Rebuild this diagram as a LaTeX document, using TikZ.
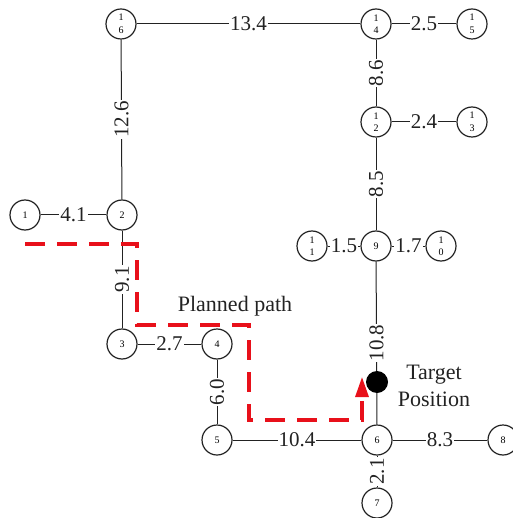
\documentclass[tikz,border=0pt]{standalone}
\usepackage{fontspec}
\setmainfont{Liberation Serif}
\usetikzlibrary{arrows.meta}
\definecolor{pathred}{HTML}{E8101A}
\definecolor{ink}{HTML}{222222}

\begin{document}
\begin{tikzpicture}[
  x=1pt, y=-1pt,
  vert/.style={draw=ink, circle, line width=1.2pt, minimum size=30pt, inner sep=0pt, fill=white, align=center, font=\fontsize{10}{12.5}\selectfont},
  edge/.style={draw=ink, line width=1pt},
  wt/.style={fill=white, inner sep=1pt, text=ink, font=\fontsize{21}{21}\selectfont},
  planned/.style={pathred, line width=3.2pt, dash pattern=on 20pt off 12pt, -{Triangle[length=20pt, width=13pt]}}
]
  \useasboundingbox (0,0) rectangle (512,518);

  % Top row
  \node[vert] (n16) at (121,24) {1\\6};
  \node[vert] (n14) at (376,24) {1\\4};
  \node[vert] (n15) at (472,24) {1\\5};

  % Right column
  \node[vert] (n12) at (376,122) {1\\2};
  \node[vert] (n13) at (472,122) {1\\3};
  \node[vert] (n11) at (312,246) {1\\1};
  \node[vert] (n9) at (376,246) {9};
  \node[vert] (n10) at (441,246) {1\\0};

  % Left part
  \node[vert] (n1) at (25,215) {1};
  \node[vert] (n2) at (122,215) {2};
  \node[vert] (n3) at (122,344) {3};
  \node[vert] (n4) at (217,344) {4};

  % Bottom row
  \node[vert] (n5) at (217,440) {5};
  \node[vert] (n6) at (377,440) {6};
  \node[vert] (n8) at (503,440) {8};
  \node[vert] (n7) at (377,503) {7};

  % edges
  \draw[edge] (n16) -- node[wt] {13.4} (n14);
  \draw[edge] (n14) -- node[wt] {2.5} (n15);
  \draw[edge] (n16) -- node[wt, rotate=90] {12.6} (n2);
  \draw[edge] (n14) -- node[wt, rotate=90] {8.6} (n12);
  \draw[edge] (n12) -- node[wt] {2.4} (n13);
  \draw[edge] (n12) -- node[wt, rotate=90] {8.5} (n9);
  \draw[edge] (n11) -- node[wt] {1.5} (n9);
  \draw[edge] (n9) -- node[wt] {1.7} (n10);
  \draw[edge] (n9) -- node[wt, rotate=90] {10.8} (n6);
  \draw[edge] (n1) -- node[wt] {4.1} (n2);
  \draw[edge] (n2) -- node[wt, rotate=90] {9.1} (n3);
  \draw[edge] (n3) -- node[wt] {2.7} (n4);
  \draw[edge] (n4) -- node[wt, rotate=90] {6.0} (n5);
  \draw[edge] (n5) -- node[wt] {10.4} (n6);
  \draw[edge] (n6) -- node[wt] {8.3} (n8);
  \draw[edge] (n6) -- node[wt, rotate=90] {2.1} (n7);

  % target
  \node[circle, fill=black, minimum size=22pt, inner sep=0pt] (target) at (377,382) {};
  \node[align=center, text=ink, font=\fontsize{22}{27}\selectfont] (targetlbl) at (434,386) {Target\\Position};

  % planned path
  \coordinate (pstart) at (25,244);
  \coordinate (pend) at (362,377);
  \draw[planned] (pstart) -| (137,325) -| (249,420) -| (pend);
  \node[text=ink, font=\fontsize{22}{22}\selectfont] (plannedlbl) at (235,306) {Planned path};
\end{tikzpicture}
\end{document}
